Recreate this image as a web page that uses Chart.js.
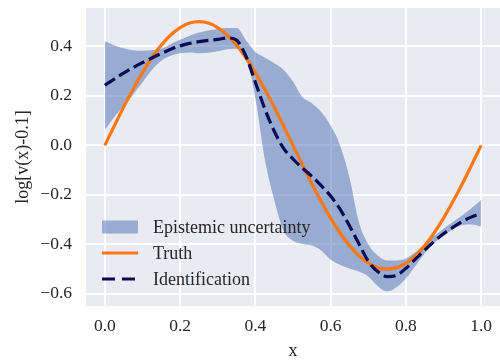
<!DOCTYPE html>
<html>
<head>
<meta charset="utf-8">
<script src="https://cdn.jsdelivr.net/npm/chart.js@4.4.1/dist/chart.umd.min.js"></script>
<style>
  html, body { margin: 0; padding: 0; background: #fff; }
</style>
</head>
<body>
<canvas id="chart" width="500" height="362"></canvas>
<script>
// sample positions along x
const xs = [0, 0.025, 0.05, 0.075, 0.1, 0.125, 0.15, 0.175, 0.2, 0.225,
  0.25, 0.275, 0.3, 0.325, 0.35, 0.375, 0.4, 0.425, 0.45, 0.475,
  0.5, 0.525, 0.55, 0.575, 0.6, 0.625, 0.65, 0.675, 0.7, 0.725,
  0.75, 0.775, 0.8, 0.825, 0.85, 0.875, 0.9, 0.925, 0.95, 0.975, 1];

const truth = [0, 0.078, 0.155, 0.227, 0.294, 0.354, 0.405, 0.446, 0.476, 0.494,
  0.5, 0.494, 0.476, 0.446, 0.405, 0.354, 0.294, 0.227, 0.155, 0.078,
  0, -0.078, -0.155, -0.227, -0.294, -0.354, -0.405, -0.446, -0.476, -0.494,
  -0.5, -0.494, -0.476, -0.446, -0.405, -0.354, -0.294, -0.227, -0.155, -0.078, 0];

const identification = [0.243, 0.268, 0.292, 0.314, 0.334, 0.353, 0.371, 0.388, 0.402, 0.412,
  0.419, 0.424, 0.428, 0.434, 0.425, 0.36, 0.255, 0.148, 0.058, -0.012,
  -0.055, -0.092, -0.125, -0.163, -0.205, -0.258, -0.325, -0.397, -0.468, -0.51,
  -0.53, -0.525, -0.497, -0.46, -0.423, -0.388, -0.357, -0.331, -0.307, -0.289, -0.274];

const bandUpper = [0.422, 0.405, 0.392, 0.384, 0.382, 0.384, 0.39, 0.41, 0.427, 0.443,
  0.456, 0.464, 0.47, 0.474, 0.474, 0.425, 0.377, 0.355, 0.333, 0.305,
  0.258, 0.195, 0.17, 0.135, 0.08, 0.0, -0.13, -0.31, -0.4, -0.445,
  -0.465, -0.465, -0.457, -0.432, -0.398, -0.367, -0.337, -0.31, -0.282, -0.253, -0.221];

const bandLower = [0.062, 0.115, 0.16, 0.205, 0.255, 0.305, 0.342, 0.362, 0.372, 0.375,
  0.372, 0.374, 0.38, 0.388, 0.39, 0.362, 0.19, -0.055, -0.22, -0.345,
  -0.385, -0.398, -0.405, -0.425, -0.462, -0.482, -0.497, -0.51, -0.53, -0.568,
  -0.59, -0.573, -0.538, -0.487, -0.436, -0.395, -0.364, -0.34, -0.322, -0.32, -0.328];

const xTicks = [0, 0.2, 0.4, 0.6, 0.8, 1.0];
const yTicks = [-0.6, -0.4, -0.2, 0, 0.2, 0.4];

const seriesNames = ['Identification', 'Truth', 'Epistemic uncertainty'];

const FONT = "'Liberation Serif', 'Times New Roman', serif";
const TEXT = '#262626';
const BAND = 'rgba(76, 114, 176, 0.52)';
const ORANGE = '#fd7712';
const NAVY = '#0a0a55';

const pts = ys => xs.map((x, i) => ({ x: x, y: ys[i] }));
const fmt = v => (v < 0 ? '\u2212' : '') + Math.abs(v).toFixed(1);

// grey panel behind the plotting area
const panelBg = {
  id: 'panelBg',
  beforeDraw(chart) {
    const { ctx, chartArea: a } = chart;
    ctx.save();
    ctx.fillStyle = '#eaeaf2';
    ctx.fillRect(a.left, a.top, a.right - a.left, a.bottom - a.top);
    ctx.restore();
  }
};

// legend drawn inside the plot, lower left
const innerLegend = {
  id: 'innerLegend',
  afterDraw(chart) {
    const ctx = chart.ctx;
    const x0 = 102, handle = 36, textX = 153;
    const rows = [227, 253, 279];
    ctx.save();
    ctx.font = '18px ' + FONT;
    ctx.textBaseline = 'middle';

    ctx.fillStyle = BAND;
    ctx.fillRect(x0, rows[0] - 6.5, handle, 13);

    ctx.lineWidth = 3;
    ctx.strokeStyle = ORANGE;
    ctx.beginPath();
    ctx.moveTo(x0, rows[1]);
    ctx.lineTo(x0 + handle, rows[1]);
    ctx.stroke();

    ctx.strokeStyle = NAVY;
    ctx.setLineDash([13, 7]);
    ctx.beginPath();
    ctx.moveTo(x0, rows[2]);
    ctx.lineTo(x0 + handle, rows[2]);
    ctx.stroke();
    ctx.setLineDash([]);

    ctx.fillStyle = TEXT;
    ctx.fillText(seriesNames[2], textX, rows[0] + 1);
    ctx.fillText(seriesNames[1], textX, rows[1] + 1);
    ctx.fillText(seriesNames[0], textX, rows[2] + 1);
    ctx.restore();
  }
};

const tickFont = { family: FONT, size: 17.5 };
const titleFont = { family: FONT, size: 18 };

new Chart(document.getElementById('chart'), {
  type: 'line',
  data: {
    datasets: [
      {
        label: seriesNames[0],
        data: pts(identification),
        borderColor: NAVY,
        borderWidth: 3.2,
        borderDash: [12, 5],
        pointRadius: 0,
        fill: false,
        cubicInterpolationMode: 'monotone'
      },
      {
        label: seriesNames[1],
        data: pts(truth),
        borderColor: ORANGE,
        borderWidth: 3.2,
        pointRadius: 0,
        fill: false,
        cubicInterpolationMode: 'monotone'
      },
      {
        label: seriesNames[2],
        data: pts(bandUpper),
        borderWidth: 0,
        borderColor: 'rgba(0,0,0,0)',
        backgroundColor: BAND,
        pointRadius: 0,
        fill: '+1',
        cubicInterpolationMode: 'monotone'
      },
      {
        label: 'lower',
        data: pts(bandLower),
        borderWidth: 0,
        borderColor: 'rgba(0,0,0,0)',
        pointRadius: 0,
        fill: false,
        cubicInterpolationMode: 'monotone'
      }
    ]
  },
  options: {
    responsive: false,
    animation: false,
    layout: { padding: { left: 0, right: 0, top: 8, bottom: 0 } },
    plugins: {
      legend: { display: false },
      tooltip: { enabled: false }
    },
    scales: {
      x: {
        type: 'linear',
        min: -0.05,
        max: 1.05,
        afterBuildTicks: s => { s.ticks = xTicks.map(v => ({ value: v })); },
        afterFit: s => { s.height = 56; s.paddingLeft = 0; s.paddingRight = 0; },
        ticks: { font: tickFont, color: TEXT, padding: 10, callback: v => fmt(v) },
        grid: { color: '#ffffff', lineWidth: 2, drawTicks: false },
        border: { display: false },
        title: { display: true, text: 'x', font: titleFont, color: TEXT, padding: { top: 0, bottom: 0 } }
      },
      y: {
        type: 'linear',
        min: -0.649,
        max: 0.555,
        afterBuildTicks: s => { s.ticks = yTicks.map(v => ({ value: v })); },
        afterFit: s => { s.width = 86; s.paddingTop = 0; s.paddingBottom = 0; },
        ticks: { font: tickFont, color: TEXT, padding: 14, callback: v => fmt(v) },
        grid: { color: '#ffffff', lineWidth: 2, drawTicks: false },
        border: { display: false },
        title: { display: true, text: 'log[v(x)-0.1]', font: titleFont, color: TEXT, padding: { top: 12, bottom: 0 } }
      }
    }
  },
  plugins: [panelBg, innerLegend]
});
</script>
</body>
</html>
